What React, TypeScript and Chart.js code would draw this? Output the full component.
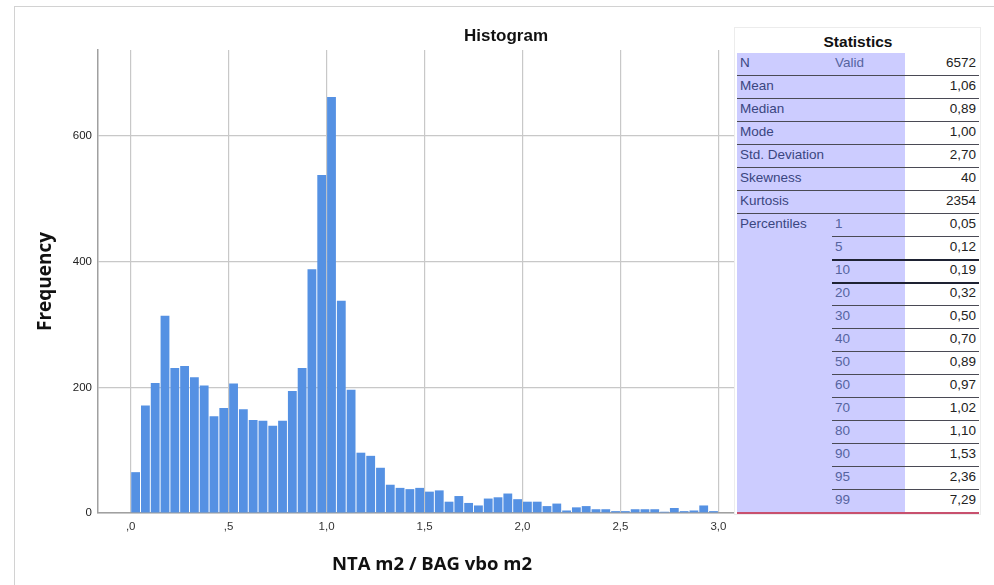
import React, { useEffect, useRef } from "react";
import { Chart, registerables } from "chart.js";

Chart.register(...registerables);

// ---- data ----
const binStart = 0;
const binWidth = 0.05;
const frequencies = [
  65, 171, 207, 314, 231, 234, 216, 203, 154, 167,
  206, 165, 148, 147, 139, 147, 194, 231, 388, 538,
  662, 338, 196, 96, 91, 72, 45, 40, 38, 40,
  34, 36, 18, 27, 16, 12, 23, 25, 31, 22,
  18, 18, 11, 15, 4, 9, 11, 6, 6, 3,
  3, 6, 6, 6, 2, 8, 3, 4, 12, 3,
  1,
];
const xTickValues = [0, 0.5, 1, 1.5, 2, 2.5, 3];
const xTickLabels = [",0", ",5", "1,0", "1,5", "2,0", "2,5", "3,0"];
const yTickValues = [0, 200, 400, 600];
const yTickLabels = ["0", "200", "400", "600"];

const statLabels = ["N", "Mean", "Median", "Mode", "Std. Deviation", "Skewness", "Kurtosis"];
const statSubLabels = ["Valid", "", "", "", "", "", ""];
const statValues = ["6572", "1,06", "0,89", "1,00", "2,70", "40", "2354"];
const percentileLabels = ["1", "5", "10", "20", "30", "40", "50", "60", "70", "80", "90", "95", "99"];
const percentileValues = ["0,05", "0,12", "0,19", "0,32", "0,50", "0,70", "0,89", "0,97", "1,02", "1,10", "1,53", "2,36", "7,29"];

const BAR = "#5591e3";
const TICK_FONT = "'Liberation Sans', Arial, sans-serif";

function ChartCanvas() {
  const ref = useRef<HTMLCanvasElement | null>(null);
  useEffect(() => {
    if (!ref.current) return;
    const chart = new Chart(ref.current, {
      type: "bar",
      data: {
        datasets: [
          {
            data: frequencies.map((f, i) => ({ x: binStart + binWidth * (i + 0.5), y: f })),
            backgroundColor: BAR,
            borderWidth: 0,
            barPercentage: 0.9,
            categoryPercentage: 1,
          } as any,
        ],
      },
      options: {
        responsive: false,
        animation: false,
        events: [],
        layout: { padding: { left: 14, top: 50, right: 228, bottom: 0 } },
        plugins: { legend: { display: false }, tooltip: { enabled: false }, title: { display: false } },
        scales: {
          x: {
            type: "linear",
            min: -0.167,
            max: 3.243,
            offset: false,
            afterFit: (s: any) => { s.height = 72; },
            afterBuildTicks: (s: any) => { s.ticks = xTickValues.map((v) => ({ value: v })); },
            ticks: {
              autoSkip: false,
              maxRotation: 0,
              padding: 7,
              color: "#333",
              font: { family: TICK_FONT, size: 11.5 },
              callback: (_v: any, i: number) => xTickLabels[i],
            },
            grid: { color: "#c8c8c8", lineWidth: 1.2, drawTicks: false, offset: false },
            border: { color: "#a0a0a0", width: 1.5 },
            title: {
              display: true,
              text: "NTA m2 / BAG vbo m2",
              color: "#111",
              font: { family: "'Open Sans', sans-serif", size: 18.5, weight: "bold" },
              padding: { top: 0, bottom: 9 },
            },
          },
          y: {
            type: "linear",
            min: 0,
            max: 737,
            afterFit: (s: any) => { s.width = 84; },
            afterBuildTicks: (s: any) => { s.ticks = yTickValues.map((v) => ({ value: v })); },
            ticks: {
              autoSkip: false,
              padding: 6,
              color: "#222",
              font: { family: TICK_FONT, size: 11.5 },
              callback: (_v: any, i: number) => yTickLabels[i],
            },
            grid: { color: "#c8c8c8", lineWidth: 1.2, drawTicks: false },
            border: { color: "#a0a0a0", width: 1.5 },
            title: {
              display: true,
              text: "Frequency",
              color: "#111",
              font: { family: "'Open Sans', sans-serif", size: 19, weight: "bold" },
              padding: { top: 20, bottom: 0 },
            },
          },
        },
      } as any,
    });
    return () => chart.destroy();
  }, []);
  return (
    <canvas
      ref={ref}
      width={994}
      height={585}
      style={{ position: "absolute", left: 0, top: 0, width: 994, height: 585 }}
    />
  );
}

function StatsTable() {
  const left = 737;
  const right = 979;
  const subX = 832;
  const valX = 905;
  const top = 53;
  const rowH = 23;
  const font = "'Liberation Sans', Arial, sans-serif";
  const rows: { label: string; sub: string; value: string }[] = [];
  statLabels.forEach((l, i) => rows.push({ label: l, sub: statSubLabels[i], value: statValues[i] }));
  percentileLabels.forEach((p, i) => rows.push({ label: i === 0 ? "Percentiles" : "", sub: p, value: percentileValues[i] }));
  const n = rows.length;
  const txt: React.CSSProperties = {
    position: "absolute",
    fontFamily: font,
    fontSize: 13.5,
    lineHeight: "18px",
    whiteSpace: "nowrap",
  };
  return (
    <>
      <div style={{ position: "absolute", left: 734, top: 27, width: 247, height: 488, border: "1px solid #ececec", background: "#fff", boxSizing: "border-box" }} />
      <div style={{ position: "absolute", left: left, top: 30, width: right - left, height: 23, textAlign: "center", fontFamily: font, fontWeight: "bold", fontSize: 15.5, lineHeight: "23px", color: "#111" }}>Statistics</div>
      <div style={{ position: "absolute", left: left, top: top, width: valX - left, height: n * rowH, background: "#ccccff" }} />
      {rows.map((r, i) => {
        const y = top + i * rowH;
        const lineFull = i < 7;
        const last = i === n - 1;
        const thick = i === 8 || i === 9;
        return (
          <React.Fragment key={i}>
            {r.label && <div style={{ ...txt, left: left + 3, top: y + 1, color: "#3a4680" }}>{r.label}</div>}
            {r.sub && <div style={{ ...txt, left: subX + 3, top: y + 1, color: "#56649f" }}>{r.sub}</div>}
            <div style={{ ...txt, right: 994 - right + 3, top: y + 1, color: "#222", textAlign: "right" }}>{r.value}</div>
            {last ? (
              <div style={{ position: "absolute", left: left, width: right - left, top: y + rowH - 1, height: 1.5, background: "#c8506e" }} />
            ) : (
              <div
                style={{
                  position: "absolute",
                  left: lineFull ? left : subX,
                  width: right - (lineFull ? left : subX),
                  top: y + rowH - (thick ? 1.5 : 1),
                  height: thick ? 2.5 : 1,
                  background: thick ? "#1e2233" : "#4a4a55",
                }}
              />
            )}
          </React.Fragment>
        );
      })}
    </>
  );
}

export default function App() {
  return (
    <div style={{ position: "fixed", left: 0, top: 0, width: 994, height: 585, background: "#fff", overflow: "hidden" }}>
      <div style={{ position: "absolute", left: 14, top: 6, width: 980, height: 1, background: "#d2d2d2" }} />
      <div style={{ position: "absolute", left: 14, top: 6, width: 1, height: 579, background: "#d2d2d2" }} />
      <ChartCanvas />
      <div style={{ position: "absolute", left: 406, top: 25, width: 200, textAlign: "center", fontFamily: "'Liberation Sans', Arial, sans-serif", fontWeight: "bold", fontSize: 17, lineHeight: "22px", color: "#111" }}>Histogram</div>
      <StatsTable />
    </div>
  );
}
